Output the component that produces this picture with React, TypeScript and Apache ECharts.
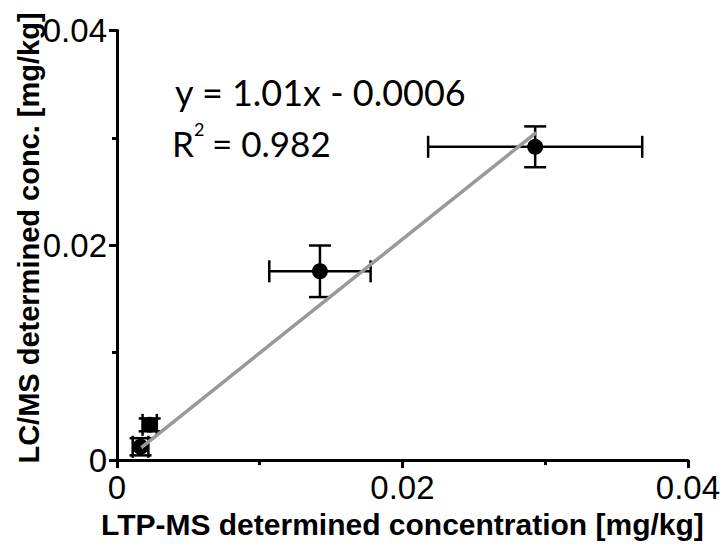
import React, { useEffect, useRef } from "react";
import * as echarts from "echarts";

const xValues = [0.00165, 0.00229, 0.01422, 0.0293];
const yValues = [0.00124, 0.00328, 0.01758, 0.02917];
const xErrors = [0.00055, 0.0005, 0.00355, 0.0075];
const yErrors = [0.0008, 0.0006, 0.0024, 0.0019];
const fitX = [0.0017, 0.02937];
const fitY = [0.00117, 0.0305];
const xAxisTitle = "LTP-MS determined concentration [mg/kg]";
const yAxisTitle = "LC/MS determined conc. [mg/kg]";
const equationText = "y = 1.01x - 0.0006";
const r2Label = "R";
const r2Sup = "2";
const r2Value = "= 0.982";

const SANS = "'Liberation Sans', Arial, sans-serif";
const NOTE = "Lato, 'Open Sans', sans-serif";

export default function App() {
  const ref = useRef<HTMLDivElement>(null);
  useEffect(() => {
    if (!ref.current) return;
    const chart = echarts.init(ref.current, null, { renderer: "svg" });
    const errData = xValues.map((x, i) => [x, yValues[i], xErrors[i], yErrors[i]]);
    const axisCommon = {
      type: "value",
      min: 0,
      max: 0.04,
      interval: 0.02,
      splitLine: { show: false },
      axisLine: { show: true, onZero: false, lineStyle: { color: "#000", width: 3 } },
      axisTick: { show: true, length: 8, lineStyle: { color: "#000", width: 3 } },
      minorTick: { show: true, splitNumber: 2, length: 5, lineStyle: { color: "#000", width: 3 } },
      axisLabel: {
        color: "#000",
        fontSize: 33,
        fontFamily: SANS,
        formatter: (v: number) => (v === 0 ? "0" : String(+v.toFixed(4))),
      },
    };
    const txt = (x: number, y: number, text: string, fontSize: number) => ({
      type: "text",
      x,
      y,
      style: {
        text,
        fill: "#000",
        fontSize,
        fontFamily: NOTE,
        align: "left",
        verticalAlign: "middle",
        textAlign: "left",
        textVerticalAlign: "middle",
      },
    });
    chart.setOption({
      animation: false,
      backgroundColor: "#fff",
      grid: { left: 117, right: 30, top: 30.5, bottom: 71 },
      xAxis: {
        ...axisCommon,
        axisLabel: { ...axisCommon.axisLabel, margin: 11 },
        name: xAxisTitle,
        nameLocation: "middle",
        nameGap: 47,
        nameTextStyle: { color: "#000", fontSize: 30, fontWeight: "bold", fontFamily: SANS },
      },
      yAxis: {
        ...axisCommon,
        axisLabel: { ...axisCommon.axisLabel, margin: 10 },
      },
      graphic: [
        {
          type: "text",
          x: 29,
          y: 238,
          rotation: Math.PI / 2,
          style: {
            text: yAxisTitle,
            fill: "#000",
            fontSize: 29,
            fontWeight: "bold",
            fontFamily: SANS,
            align: "center",
            verticalAlign: "middle",
            textAlign: "center",
            textVerticalAlign: "middle",
          },
        },
        txt(175, 92, equationText, 36),
        txt(172, 143, r2Label, 35),
        txt(194, 129, r2Sup, 18),
        txt(212, 143, r2Value, 35),
      ],
      series: [
        {
          type: "custom",
          z: 1,
          dimensions: ["x", "y", "xe", "ye"],
          encode: { x: 0, y: 1 },
          data: errData,
          renderItem: (_params: any, api: any) => {
            const x = api.value(0);
            const y = api.value(1);
            const xe = api.value(2);
            const ye = api.value(3);
            const c = api.coord([x, y]);
            const l = api.coord([x - xe, y]);
            const r = api.coord([x + xe, y]);
            const t = api.coord([x, y + ye]);
            const b = api.coord([x, y - ye]);
            const cap = 11;
            const style = { stroke: "#000", lineWidth: 2.5, fill: "none" };
            const ln = (x1: number, y1: number, x2: number, y2: number) => ({
              type: "line",
              shape: { x1, y1, x2, y2 },
              style,
            });
            return {
              type: "group",
              children: [
                ln(l[0], c[1], r[0], c[1]),
                ln(l[0], c[1] - cap, l[0], c[1] + cap),
                ln(r[0], c[1] - cap, r[0], c[1] + cap),
                ln(c[0], t[1], c[0], b[1]),
                ln(c[0] - cap, t[1], c[0] + cap, t[1]),
                ln(c[0] - cap, b[1], c[0] + cap, b[1]),
              ],
            };
          },
        },
        {
          type: "scatter",
          z: 2,
          symbol: "circle",
          symbolSize: 16,
          itemStyle: { color: "#000", opacity: 1 },
          data: xValues.map((x, i) => [x, yValues[i]]),
        },
        {
          type: "line",
          z: 3,
          symbol: "none",
          lineStyle: { color: "#999999", width: 3.5 },
          data: fitX.map((x, i) => [x, fitY[i]]),
        },
      ],
    });
    return () => chart.dispose();
  }, []);
  return (
    <div
      ref={ref}
      style={{ position: "fixed", left: 0, top: 0, width: 723, height: 544, background: "#fff" }}
    />
  );
}
